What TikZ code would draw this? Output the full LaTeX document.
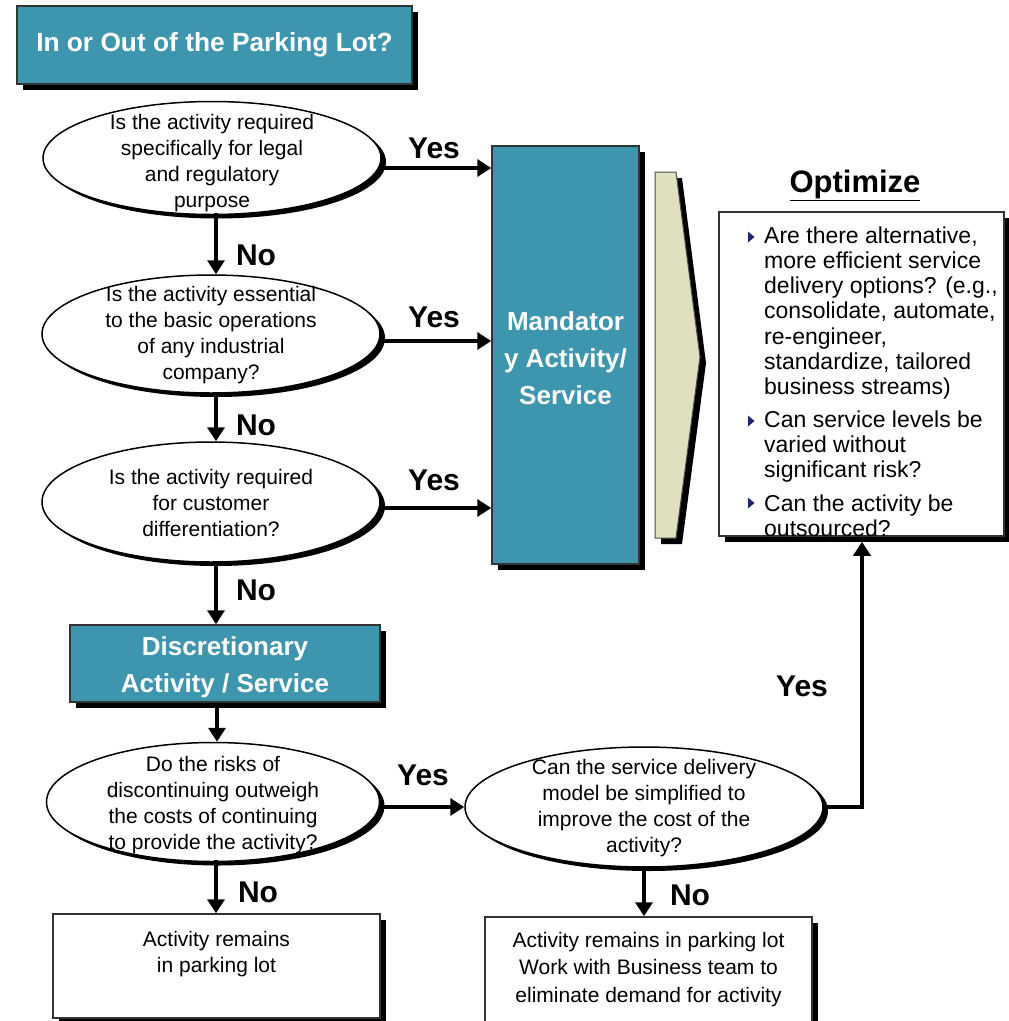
\documentclass[tikz,border=0pt]{standalone}
\usepackage{fontspec}
\setmainfont{Liberation Sans}
\usetikzlibrary{shapes.geometric,shadows,arrows.meta}
\definecolor{boxteal}{RGB}{62,150,174}
\definecolor{chevronbeige}{RGB}{224,223,192}
\definecolor{bulletnavy}{RGB}{28,40,110}
\begin{document}
\begin{tikzpicture}[x=1pt,y=-1pt,
  boxshadow/.style={drop shadow={shadow xshift=6pt,shadow yshift=-6pt,fill=black,opacity=1}},
  ellshadow/.style={drop shadow={shadow xshift=5pt,shadow yshift=-4pt,fill=black,opacity=1}},
  tealbox/.style={rectangle,draw=black!80,line width=1.5pt,fill=boxteal,inner sep=0,boxshadow},
  whitebox/.style={rectangle,draw=black!80,line width=1.5pt,fill=white,inner sep=0,boxshadow},
  question/.style={ellipse,draw=black,line width=1.5pt,fill=white,inner sep=0,ellshadow},
  qtext/.style={align=center,font=\fontsize{21}{26}\selectfont,inner sep=0},
  boxtitle/.style={align=center,text=white,font=\bfseries\fontsize{26}{37}\selectfont,inner sep=0},
  answer/.style={font=\bfseries\fontsize{30}{36}\selectfont,inner sep=0},
  optline/.style={align=left,anchor=west,font=\fontsize{23}{25.3}\selectfont,inner sep=0},
  flow/.style={line width=4.5pt,-{Triangle[length=14pt,width=17pt]}},
  bullet/.style={fill=bulletnavy}]
\clip (0,0) rectangle (1009,1021);

% title
\node[tealbox,minimum width=395pt,minimum height=78pt] (title) at (214.5,45) {};
\node[boxtitle,font=\bfseries\fontsize{26.3}{37}\selectfont] (titletext) at (title.center) {In or Out of the Parking Lot?};

% question chain on the left
\node[question,minimum width=338pt,minimum height=113pt] (q1) at (212,158) {};
\node[qtext] (q1t) at (212,163) {Is the activity required\\specifically for legal\\and regulatory\\purpose};
\node[question,minimum width=338pt,minimum height=118pt] (q2) at (211,334) {};
\node[qtext] (q2t) at (211,335) {Is the activity essential\\to the basic operations\\of any industrial\\company?};
\node[question,minimum width=338pt,minimum height=120pt] (q3) at (211,502) {};
\node[qtext] (q3t) at (211,503) {Is the activity required\\for customer\\differentiation?};

% mandatory column
\node[tealbox,minimum width=147pt,minimum height=418pt] (mand) at (565.5,355) {};
\node[boxtitle] (mandtext) at (565.5,358) {Mandator\\y Activity/\\Service};

% chevron
\fill[black] (661,178) -- (682,178) -- (706,363) -- (682,544) -- (661,544) -- cycle;
\draw[black!70,line width=1pt,fill=chevronbeige] (655,172) -- (676,172) -- (700,357) -- (676,538) -- (655,538) -- cycle;

% optimize
\node[font=\bfseries\fontsize{31}{36}\selectfont,inner sep=0] (opthead) at (855,185) {\underline{Optimize}};
\node[whitebox,minimum width=285pt,minimum height=324pt] (opt) at (861.5,374) {};
\node[optline] (o1) at (764,313) {Are there alternative,\\more efficient service\\delivery options? (e.g.,\\consolidate, automate,\\re-engineer,\\standardize, tailored\\business streams)};
\node[optline] (o2) at (764,446.5) {Can service levels be\\varied without\\significant risk?};
\node[optline] (o3) at (764,515.5) {Can the activity be\\outsourced?};
\fill[bullet] (748,231.5) -- (748,242.5) -- (754.5,237) -- cycle;
\fill[bullet] (748,415.5) -- (748,426.5) -- (754.5,421) -- cycle;
\fill[bullet] (748,497.5) -- (748,508.5) -- (754.5,503) -- cycle;

% discretionary branch
\node[tealbox,minimum width=310pt,minimum height=77pt] (disc) at (225,663.5) {};
\node[boxtitle] (disctext) at (225,667) {Discretionary\\Activity / Service};
\node[question,minimum width=333pt,minimum height=119pt] (q4) at (213,802) {};
\node[qtext] (q4t) at (213,805) {Do the risks of\\discontinuing outweigh\\the costs of continuing\\to provide the activity?};
\node[question,minimum width=358pt,minimum height=120pt] (q5) at (644,807) {};
\node[qtext] (q5t) at (644,808) {Can the service delivery\\model be simplified to\\improve the cost of the\\activity?};

% outcomes
\node[whitebox,minimum width=327pt,minimum height=104pt] (park1) at (216.5,966) {};
\node[qtext] (park1t) at (216.5,954) {Activity remains\\in parking lot};
\node[whitebox,minimum width=327pt,minimum height=115pt] (park2) at (648.5,974.5) {};
\node[qtext,font=\fontsize{21}{27.5}\selectfont] (park2t) at (648.5,969.5) {Activity remains in parking lot\\Work with Business team to\\eliminate demand for activity};

% connectors
\coordinate (riser) at (862,0);
\draw[flow] ([xshift=4pt,yshift=2pt]q1.south) -- ([xshift=4pt]q1.south |- q2.north);
\draw[flow] ([xshift=5pt,yshift=2pt]q2.south) -- ([xshift=5pt]q2.south |- q3.north);
\draw[flow] ([xshift=5pt,yshift=2pt]q3.south) -- ([xshift=5pt]q3.south |- disc.north);
\draw[flow] ([xshift=4pt]q4.north |- disc.south) -- ([xshift=4pt]q4.north);
\draw[flow] ([xshift=3pt,yshift=2pt]q4.south) -- ([xshift=3pt]q4.south |- park1.north);
\draw[flow] ([yshift=2pt]q5.south) -- (q5.south |- park2.north);
\draw[flow] ([yshift=-10pt]q1.east) -- ([yshift=-10pt]q1.east -| mand.west);
\draw[flow] ([yshift=-7pt]q2.east) -- ([yshift=-7pt]q2.east -| mand.west);
\draw[flow] ([yshift=-6pt]q3.east) -- ([yshift=-6pt]q3.east -| mand.west);
\draw[flow] (q4.east |- q5.west) -- (q5.west);
\draw[line width=4pt,-{Triangle[length=14pt,width=17pt]}] (q5.east) -| ([yshift=-5pt]riser |- opt.south);

% answers
\node[answer] (y1) at (434,148) {Yes};
\node[answer] (y2) at (434,317) {Yes};
\node[answer] (y3) at (434,480) {Yes};
\node[answer] (y4) at (423,775) {Yes};
\node[answer] (y5) at (802,686) {Yes};
\node[answer] (n1) at (256,255) {No};
\node[answer] (n2) at (256,425) {No};
\node[answer] (n3) at (256,590) {No};
\node[answer] (n4) at (258,892) {No};
\node[answer] (n5) at (690,895) {No};
\end{tikzpicture}
\end{document}
